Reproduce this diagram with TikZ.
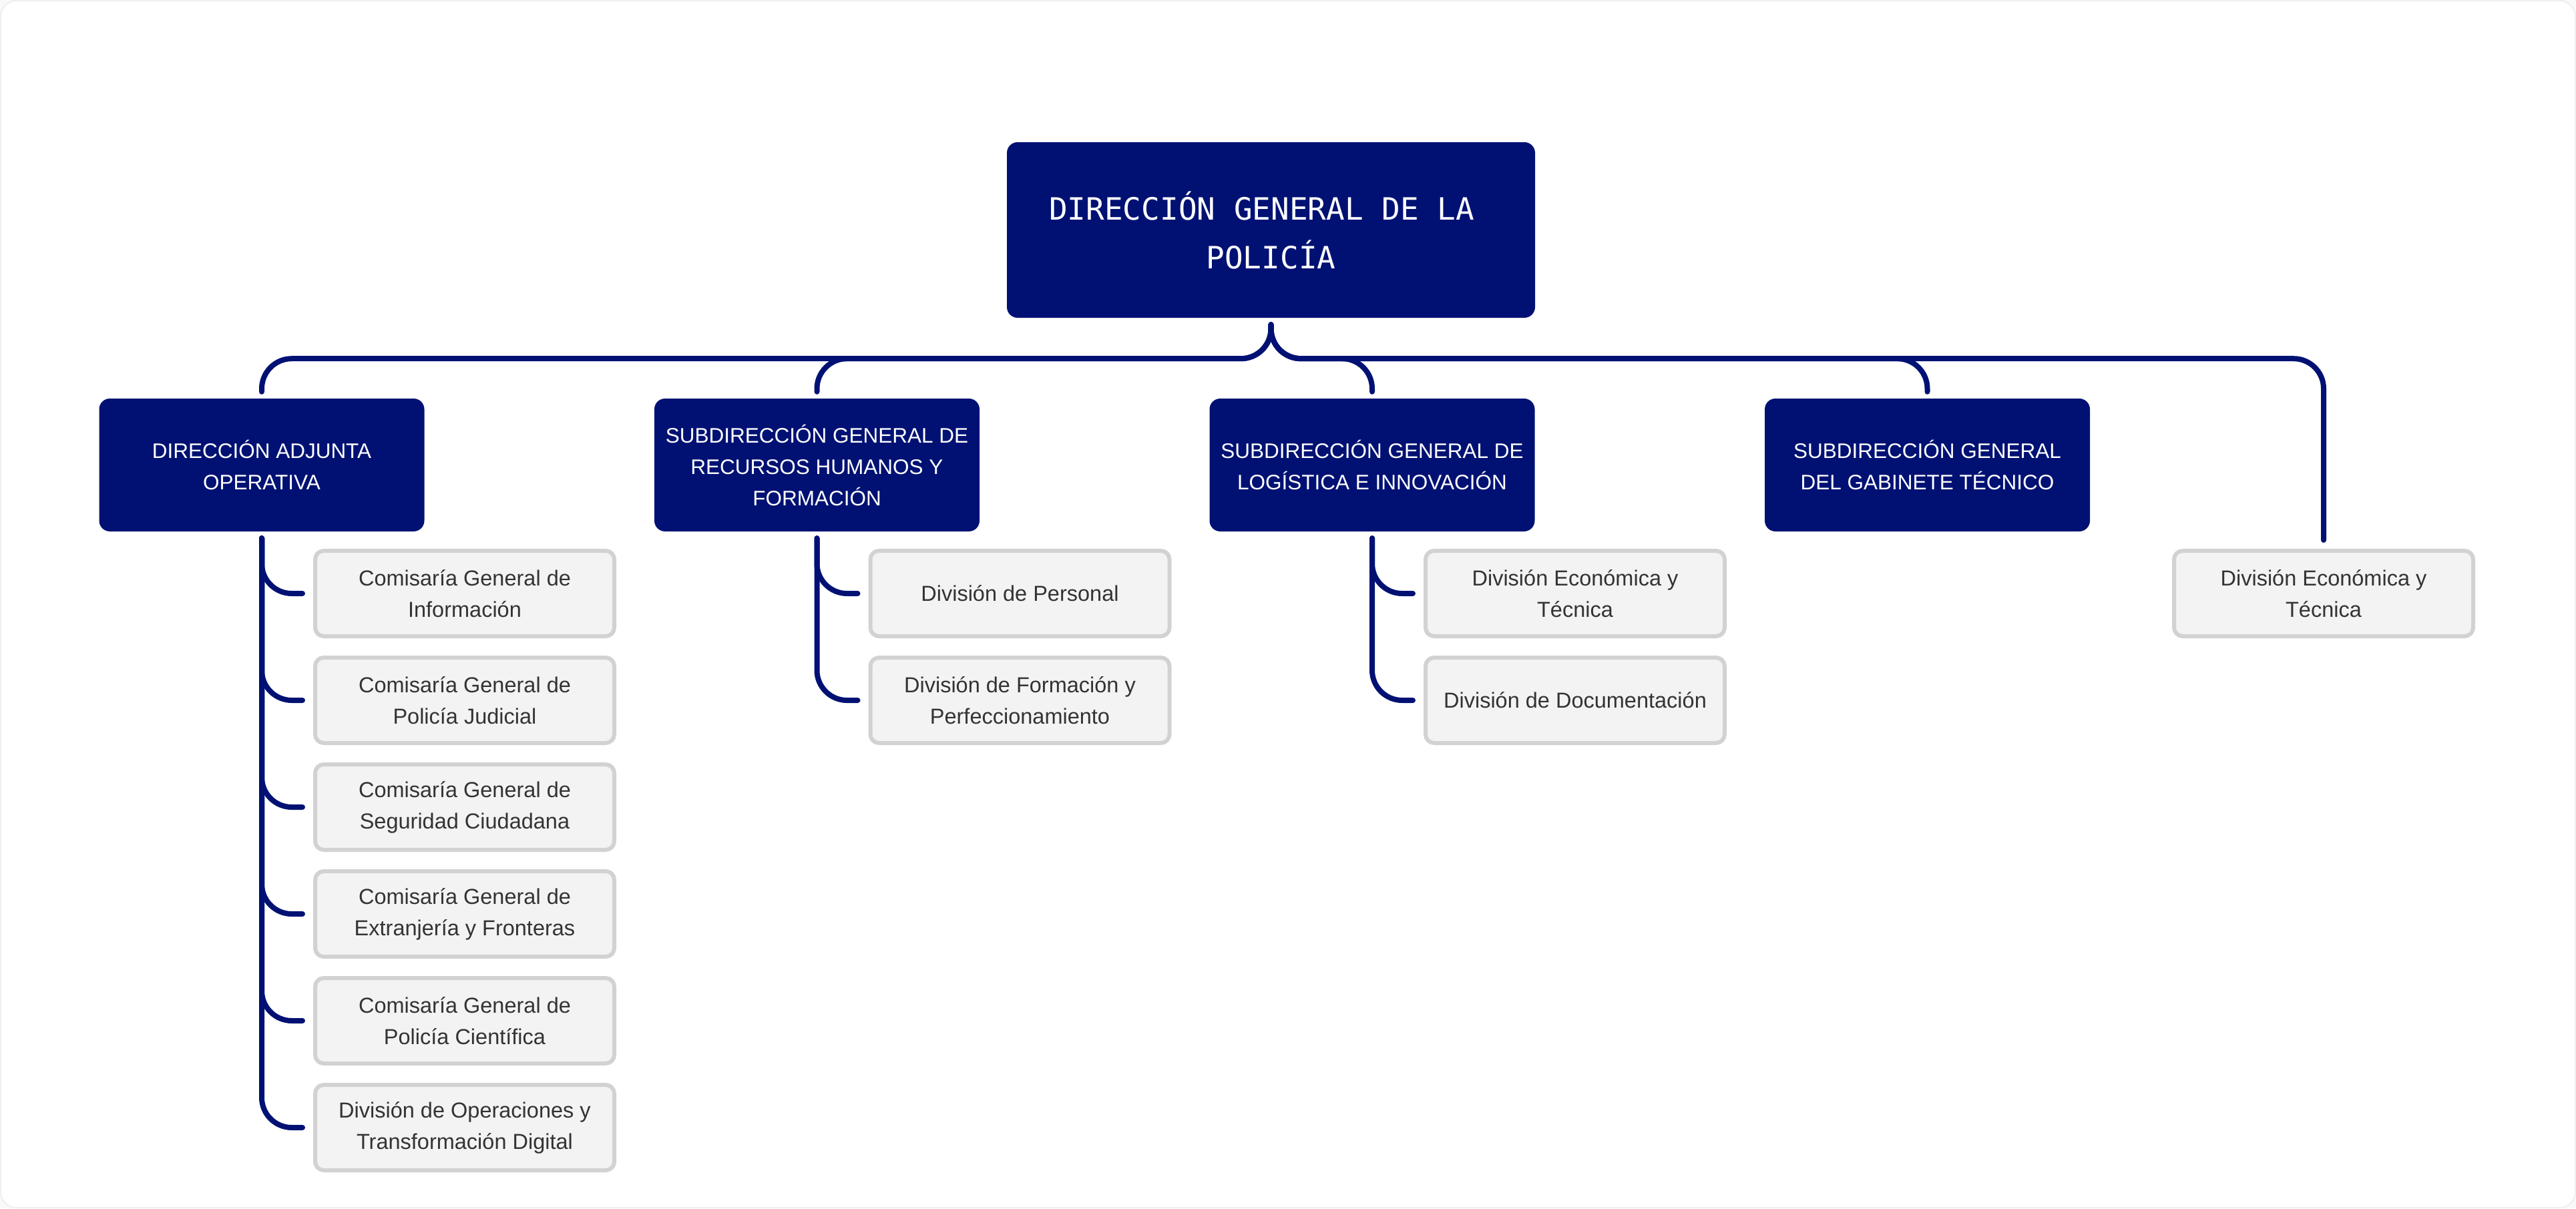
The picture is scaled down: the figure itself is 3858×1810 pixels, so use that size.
\documentclass[tikz,border=0pt]{standalone}
\usepackage{fontspec}
\setmainfont{Liberation Sans}
\newfontfamily\rootfont{DejaVu Sans Mono}
\definecolor{navy}{RGB}{0,17,115}
\definecolor{leafbg}{RGB}{243,243,243}
\definecolor{leafline}{RGB}{210,210,210}
\definecolor{leaftext}{RGB}{51,51,51}
\definecolor{bgout}{RGB}{248,248,248}
\definecolor{bgedge}{RGB}{240,240,240}
\begin{document}
\begin{tikzpicture}[x=1pt,y=-1pt,
  rootbox/.style={fill=navy, rounded corners=16pt, minimum width=791pt, minimum height=263pt,
    text=white, align=center, inner sep=0pt, font=\rootfont\fontsize{46pt}{73pt}\selectfont},
  midbox/.style={fill=navy, rounded corners=16pt, minimum width=487pt, minimum height=199pt,
    text=white, align=center, inner sep=0pt, font=\fontsize{31.5pt}{47pt}\selectfont},
  leafbox/.style={fill=leafbg, draw=leafline, line width=6pt, rounded corners=13pt,
    minimum width=448pt, minimum height=128pt, text=leaftext, align=center, inner sep=0pt,
    font=\fontsize{32.5pt}{47pt}\selectfont},
  conn/.style={draw=navy, line width=8pt, line cap=round, rounded corners=45pt},
]
\useasboundingbox (0,0) rectangle (3858,1810);
\fill[bgout] (0,0) rectangle (3858,1810);
\filldraw[fill=white, draw=bgedge, line width=2pt, rounded corners=24pt] (1,1) rectangle (3857,1809);

% root
\node[rootbox] (root) at (1903.5,344.5) {DIRECCIÓN GENERAL DE LA\phantom{A}\\POLICÍA};

% level 2
\node[midbox] (m1) at (392,696.5) {DIRECCIÓN ADJUNTA\\OPERATIVA};
\node[midbox] (m2) at (1223.5,696.5) {SUBDIRECCIÓN GENERAL DE\\RECURSOS HUMANOS Y\\FORMACIÓN};
\node[midbox] (m3) at (2055,696.5) {SUBDIRECCIÓN GENERAL DE\\LOGÍSTICA E INNOVACIÓN};
\node[midbox] (m4) at (2886.5,696.5) {SUBDIRECCIÓN GENERAL\\DEL GABINETE TÉCNICO};
\node[leafbox] (l5) at (3480,889) {División Económica y\\Técnica};

% level 3 under m1
\node[leafbox] (c1) at (696,889) {Comisaría General de\\Información};
\node[leafbox] (c2) at (696,1049) {Comisaría General de\\Policía Judicial};
\node[leafbox] (c3) at (696,1209) {Comisaría General de\\Seguridad Ciudadana};
\node[leafbox] (c4) at (696,1369) {Comisaría General de\\Extranjería y Fronteras};
\node[leafbox] (c5) at (696,1529) {Comisaría General de\\Policía Científica};
\node[leafbox] (c6) at (696,1689) {División de Operaciones y\\Transformación Digital};

% level 3 under m2
\node[leafbox] (d1) at (1527.5,889) {División de Personal};
\node[leafbox] (d2) at (1527.5,1049) {División de Formación y\\Perfeccionamiento};

% level 3 under m3
\node[leafbox] (e1) at (2359,889) {División Económica y\\Técnica};
\node[leafbox] (e2) at (2359,1049) {División de Documentación};

% connectors root -> level 2
\foreach \c in {m1,m2,m3,m4}
  \draw[conn] ([yshift=-10pt]root.south) -- ++(0,51) -| ([yshift=10pt]\c.north);
\draw[conn] ([yshift=-10pt]root.south) -- ++(0,51) -| ([yshift=13pt]l5.north);

% connectors level 2 -> level 3
\foreach \c in {c1,c2,c3,c4,c5,c6}
  \draw[conn] ([yshift=-10pt]m1.south) |- ([xshift=-16pt]\c.west);
\foreach \c in {d1,d2}
  \draw[conn] ([yshift=-10pt]m2.south) |- ([xshift=-16pt]\c.west);
\foreach \c in {e1,e2}
  \draw[conn] ([yshift=-10pt]m3.south) |- ([xshift=-16pt]\c.west);
\end{tikzpicture}
\end{document}
